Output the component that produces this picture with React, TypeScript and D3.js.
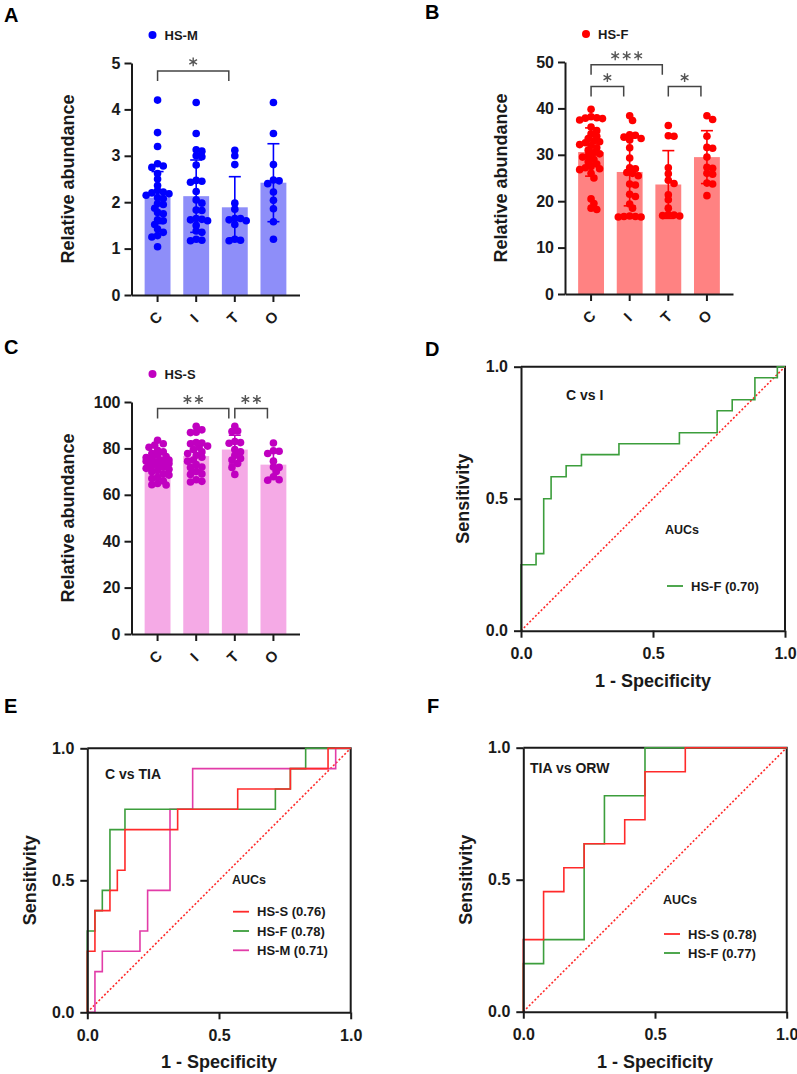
import React, { useEffect, useRef } from 'react';
import * as d3 from 'd3';

const FONT = "'Liberation Sans', Arial, Helvetica, sans-serif";
const groups = ['C', 'I', 'T', 'O'];

// HS-M relative abundance per group
const hsmC = [4.2, 3.5, 3.2, 2.83, 2.78, 2.75, 2.62, 2.5, 2.36, 2.25, 2.22, 2.2, 2.18, 2.15, 2.1, 2.08, 1.97, 1.95, 1.87, 1.78, 1.75, 1.62, 1.6, 1.52, 1.42, 1.35, 1.28, 1.25, 1.04];
const hsmI = [4.15, 3.48, 3.13, 3.1, 3.0, 2.98, 2.8, 2.47, 2.45, 2.43, 2.23, 2.05, 1.98, 1.83, 1.82, 1.65, 1.63, 1.62, 1.6, 1.5, 1.38, 1.35, 1.2, 1.18, 1.17];
const hsmT = [3.12, 3.0, 2.81, 1.98, 1.85, 1.65, 1.65, 1.62, 1.6, 1.52, 1.2, 1.18, 1.17];
const hsmO = [4.15, 3.48, 2.81, 2.48, 2.46, 2.4, 2.22, 2.04, 1.86, 1.58, 1.2];
const hsmMean = [2.1, 2.13, 1.89, 2.42];
const hsmSd = [0.56, 0.78, 0.66, 0.84];

// HS-F
const hsfC = [39.8, 38.2, 38.0, 37.9, 37.8, 37.5, 36.0, 35.2, 34.5, 34.0, 33.5, 33.0, 32.8, 32.6, 32.2, 32.0, 31.5, 31.0, 30.5, 30.2, 29.8, 29.5, 29.0, 28.5, 28.0, 27.5, 27.2, 27.0, 26.8, 26.0, 25.0, 20.5, 19.5, 18.5, 18.2];
const hsfI = [38.4, 37.4, 34.3, 34.2, 33.8, 33.5, 33.2, 31.5, 29.3, 27.2, 27.0, 26.2, 26.0, 25.5, 23.7, 23.5, 21.5, 21.0, 19.4, 18.5, 16.8, 16.7, 16.7, 16.6, 16.6];
const hsfT = [36.3, 34.1, 34.0, 27.2, 25.9, 24.5, 23.8, 21.4, 20.3, 18.5, 17.1, 17.0, 16.9, 16.8];
const hsfO = [38.4, 37.6, 34.0, 31.6, 31.4, 29.5, 27.3, 27.1, 26.0, 25.8, 23.9, 23.7, 21.2];
const hsfMean = [30.6, 26.3, 23.6, 29.5];
const hsfSd = [5.2, 7.3, 7.3, 5.7];

// HS-S
const hssC = [83.5, 82, 81.4, 80.5, 79.2, 78.5, 77.8, 77, 76.5, 76.1, 75.5, 75, 75, 74.5, 74.2, 74, 73.5, 73.5, 73, 72.4, 72, 71.4, 71, 70.5, 69.9, 69, 68.5, 67.5, 67, 66, 64.9, 64.3, 64.2];
const hssI = [89.5, 88, 87, 86.8, 82.5, 82.3, 82, 81, 80.5, 79.5, 78.5, 77.8, 77, 76.2, 75, 74.5, 73, 72, 71.8, 70, 69, 68.8, 66.5, 65.8, 65.5];
const hssT = [89.5, 87.5, 87.3, 83, 82.5, 82.2, 79.5, 78.5, 77, 75.7, 75, 73.5, 71.8, 68.8];
const hssO = [82.3, 79, 78.8, 77.8, 74.5, 72, 71.8, 70, 67.8, 66.5, 66.3];
const hssMean = [74.2, 76.7, 79.5, 73.0];
const hssSd = [4.5, 6.4, 6.2, 5.5];

// ROC step vertices (1 - specificity, sensitivity)
const dHsfFpr = [0, 0.057, 0.086, 0.114, 0.171, 0.229, 0.371, 0.6, 0.743, 0.8, 0.886, 0.971, 1];
const dHsfTpr = [0, 0.25, 0.292, 0.5, 0.583, 0.625, 0.667, 0.708, 0.75, 0.833, 0.875, 0.958, 1];

const eHssFpr = [0, 0.029, 0.086, 0.114, 0.143, 0.343, 0.571, 0.771, 0.914, 1];
const eHssTpr = [0, 0.231, 0.385, 0.462, 0.538, 0.692, 0.769, 0.846, 0.923, 1];
const eHsfFpr = [0, 0.029, 0.057, 0.086, 0.143, 0.714, 0.771, 0.829, 1];
const eHsfTpr = [0, 0.308, 0.385, 0.462, 0.692, 0.769, 0.846, 0.923, 1];
const eHsmFpr = [0, 0.029, 0.057, 0.2, 0.229, 0.314, 0.4, 0.943, 1];
const eHsmTpr = [0, 0, 0.154, 0.231, 0.308, 0.462, 0.769, 0.923, 1];

const fHssFpr = [0, 0.077, 0.154, 0.231, 0.385, 0.462, 0.615, 1];
const fHssTpr = [0, 0.273, 0.455, 0.545, 0.636, 0.727, 0.909, 1];
const fHsfFpr = [0, 0.077, 0.231, 0.308, 0.462, 1];
const fHsfTpr = [0, 0.182, 0.273, 0.636, 0.818, 1];

const GREEN = '#3c9e3c';
const RED = '#ff2a2a';
const MAGENTA = '#e23ca8';

// spread points sideways so dots don't pile up on one spot,
// but keep them within maxOff of the bar centre (dense groups just overlap)
function swarm(ys: number[], r: number, maxOff = 14) {
  const placed: { x: number; y: number }[] = [];
  const sorted = [...ys].sort((a, b) => a - b);
  const step = r * 0.75;
  for (const py of sorted) {
    let best = 0;
    let bestGap = -1;
    for (let k = 0; ; k++) {
      const off = k === 0 ? 0 : (k % 2 ? 1 : -1) * Math.ceil(k / 2) * step;
      if (Math.abs(off) > maxOff) break;
      const gap = placed.length
        ? d3.min(placed, (p) => Math.hypot(p.x - off, p.y - py))!
        : Infinity;
      if (gap >= r * 1.3) {
        best = off;
        bestGap = Infinity;
        break;
      }
      if (gap > bestGap) {
        bestGap = gap;
        best = off;
      }
    }
    placed.push({ x: best, y: py });
  }
  return placed;
}

function drawBarPanel(svg: any, p: any) {
  const g = svg.append('g');
  const y = d3.scaleLinear().domain([0, p.max]).range([p.bottom, p.top]);
  const x = d3
    .scaleBand()
    .domain(groups)
    .range([p.left, p.left + 168])
    .paddingInner(0.33)
    .paddingOuter(0.34);
  const bw = x.bandwidth();

  g.selectAll('.bar')
    .data(p.means)
    .join('rect')
    .attr('x', (d: number, i: number) => x(groups[i]))
    .attr('y', (d: number) => y(d))
    .attr('width', bw)
    .attr('height', (d: number) => p.bottom - y(d))
    .attr('fill', p.barColor);

  // error bars (mean ± SD)
  p.means.forEach((m: number, i: number) => {
    const cx = x(groups[i])! + bw / 2;
    const sd = p.sds[i];
    const eg = g.append('g').attr('stroke', p.dotColor).attr('stroke-width', 1.6);
    eg.append('line').attr('x1', cx).attr('x2', cx).attr('y1', y(m - sd)).attr('y2', y(m + sd));
    [m - sd, m + sd].forEach((v) =>
      eg.append('line').attr('x1', cx - 6).attr('x2', cx + 6).attr('y1', y(v)).attr('y2', y(v))
    );
  });

  const r = 3.8;
  p.points.forEach((vals: number[], i: number) => {
    const cx = x(groups[i])! + bw / 2;
    const pts = swarm(vals.map((v) => y(v)), r);
    g.selectAll(null)
      .data(pts)
      .join('circle')
      .attr('cx', (d: any) => cx + d.x)
      .attr('cy', (d: any) => d.y)
      .attr('r', r)
      .attr('fill', p.dotColor);
  });

  const yAxis = g
    .append('g')
    .attr('transform', `translate(${p.left},0)`)
    .call(
      d3
        .axisLeft(y)
        .tickValues(d3.range(0, p.max + 0.001, p.step))
        .tickFormat(d3.format('d'))
        .tickSize(7)
        .tickSizeOuter(0)
        .tickPadding(4)
    );
  const xAxis = g
    .append('g')
    .attr('transform', `translate(0,${p.bottom})`)
    .call(d3.axisBottom(x).tickSize(7).tickSizeOuter(0).tickFormat(() => ''));
  [yAxis, xAxis].forEach((a) => {
    a.select('.domain').attr('stroke', '#1a1a1a').attr('stroke-width', 2);
    a.selectAll('.tick line').attr('stroke', '#1a1a1a').attr('stroke-width', 2);
  });
  yAxis
    .selectAll('.tick text')
    .attr('font-family', FONT)
    .attr('font-size', 16)
    .attr('font-weight', 'bold')
    .attr('fill', '#1a1a1a');

  groups.forEach((c) => {
    const cx = x(c)! + bw / 2 - 2;
    g.append('text')
      .attr('transform', `translate(${cx},${p.bottom + 23}) rotate(-45)`)
      .attr('text-anchor', 'middle')
      .attr('dy', '0.35em')
      .attr('font-family', FONT)
      .attr('font-size', 15)
      .attr('font-weight', 'bold')
      .attr('fill', '#1a1a1a')
      .text(c);
  });

  g.append('text')
    .attr('transform', `translate(${p.left - 64},${(p.top + p.bottom) / 2}) rotate(-90)`)
    .attr('text-anchor', 'middle')
    .attr('dy', '0.35em')
    .attr('font-family', FONT)
    .attr('font-size', 18)
    .attr('font-weight', 'bold')
    .attr('fill', '#1a1a1a')
    .text('Relative abundance');

  // legend
  g.append('circle').attr('cx', p.left + 21).attr('cy', p.top - 28).attr('r', 4).attr('fill', p.dotColor);
  g.append('text')
    .attr('x', p.left + 33)
    .attr('y', p.top - 23.5)
    .attr('font-family', FONT)
    .attr('font-size', 13)
    .attr('font-weight', 'bold')
    .attr('fill', '#1a1a1a')
    .text(p.legend);

  // significance brackets
  const star = d3.symbol(d3.symbolAsterisk, 55);
  p.brackets.forEach((b: any) => {
    const x1 = x(groups[b.from])! + bw / 2;
    const x2 = x(groups[b.to])! + bw / 2 - 6;
    const yl = y(b.level);
    g.append('path')
      .attr('d', `M${x1},${yl + 10}V${yl}H${x2}V${yl + 10}`)
      .attr('fill', 'none')
      .attr('stroke', '#444')
      .attr('stroke-width', 1.5);
    const mid = (x1 + x2) / 2;
    for (let k = 0; k < b.stars; k++) {
      const sx = mid + (k - (b.stars - 1) / 2) * 11.5;
      g.append('path')
        .attr('d', star)
        .attr('transform', `translate(${sx},${yl - 9})`)
        .attr('fill', 'none')
        .attr('stroke', '#555')
        .attr('stroke-width', 1.4);
    }
  });
}

function drawRocPanel(svg: any, p: any) {
  const g = svg.append('g');
  const x = d3.scaleLinear().domain([0, 1]).range([p.x0, p.x1]);
  const y = d3.scaleLinear().domain([0, 1]).range([p.yBot, p.yTop]);

  // box
  g.append('path')
    .attr('d', `M${p.x0},${p.yTop}H${p.x1}V${p.yBot}`)
    .attr('fill', 'none')
    .attr('stroke', '#1a1a1a')
    .attr('stroke-width', 2);

  g.append('line')
    .attr('x1', x(0))
    .attr('y1', y(0))
    .attr('x2', x(1))
    .attr('y2', y(1))
    .attr('stroke', RED)
    .attr('stroke-width', 1.6)
    .attr('stroke-dasharray', '2,2');

  // last series in the list goes underneath
  [...p.series].reverse().forEach((s: any) => {
    const pts = s.fpr.map((f: number, i: number) => [x(f), y(s.tpr[i])]);
    g.append('path')
      .attr('d', d3.line().curve(d3.curveStepBefore)(pts))
      .attr('fill', 'none')
      .attr('stroke', s.color)
      .attr('stroke-width', 1.6);
  });

  const ticks = [0, 0.5, 1];
  const yAxis = g
    .append('g')
    .attr('transform', `translate(${p.x0},0)`)
    .call(d3.axisLeft(y).tickValues(ticks).tickFormat(d3.format('.1f')).tickSize(7).tickSizeOuter(0).tickPadding(6));
  const xAxis = g
    .append('g')
    .attr('transform', `translate(0,${p.yBot})`)
    .call(d3.axisBottom(x).tickValues(ticks).tickFormat(d3.format('.1f')).tickSize(7).tickSizeOuter(0).tickPadding(10));
  [yAxis, xAxis].forEach((a) => {
    a.select('.domain').attr('stroke', '#1a1a1a').attr('stroke-width', 2);
    a.selectAll('.tick line').attr('stroke', '#1a1a1a').attr('stroke-width', 2);
    a.selectAll('.tick text')
      .attr('font-family', FONT)
      .attr('font-size', 16)
      .attr('font-weight', 'bold')
      .attr('fill', '#1a1a1a');
  });

  const txt = (sel: any, size: number) =>
    sel.attr('font-family', FONT).attr('font-size', size).attr('font-weight', 'bold').attr('fill', '#1a1a1a');

  txt(
    g
      .append('text')
      .attr('transform', `translate(${p.x0 - 58},${(p.yTop + p.yBot) / 2}) rotate(-90)`)
      .attr('text-anchor', 'middle')
      .attr('dy', '0.35em')
      .text('Sensitivity'),
    18
  );
  txt(
    g
      .append('text')
      .attr('x', (p.x0 + p.x1) / 2)
      .attr('y', p.yBot + 56)
      .attr('text-anchor', 'middle')
      .text('1 - Specificity'),
    18
  );
  txt(g.append('text').attr('x', p.titleX).attr('y', p.titleY).text(p.title), 14);
  txt(g.append('text').attr('x', p.aucX).attr('y', p.aucY).text('AUCs'), 12.5);

  p.series.forEach((s: any, i: number) => {
    const ly = p.legY + i * p.legDy;
    g.append('line')
      .attr('x1', p.legX)
      .attr('x2', p.legX + 16)
      .attr('y1', ly)
      .attr('y2', ly)
      .attr('stroke', s.color)
      .attr('stroke-width', 1.8);
    txt(g.append('text').attr('x', p.legX + 24).attr('y', ly).attr('dy', '0.35em').text(s.label), 13);
  });
}

const App = () => {
  const svgRef = useRef<SVGSVGElement>(null);

  useEffect(() => {
    const svg = d3.select(svgRef.current);
    svg.selectAll('*').remove();

    drawBarPanel(svg, {
      left: 131.5, top: 63, bottom: 295, max: 5, step: 1,
      means: hsmMean, sds: hsmSd, points: [hsmC, hsmI, hsmT, hsmO],
      barColor: '#8e8ef9', dotColor: '#0000ff', legend: 'HS-M',
      brackets: [{ from: 0, to: 2, stars: 1, level: 4.83 }],
    });
    drawBarPanel(svg, {
      left: 565, top: 62, bottom: 294, max: 50, step: 10,
      means: hsfMean, sds: hsfSd, points: [hsfC, hsfI, hsfT, hsfO],
      barColor: '#ff8282', dotColor: '#ff0000', legend: 'HS-F',
      brackets: [
        { from: 0, to: 2, stars: 3, level: 49.4 },
        { from: 0, to: 1, stars: 1, level: 44.7 },
        { from: 2, to: 3, stars: 1, level: 44.7 },
      ],
    });
    drawBarPanel(svg, {
      left: 131.5, top: 402, bottom: 634, max: 100, step: 20,
      means: hssMean, sds: hssSd, points: [hssC, hssI, hssT, hssO],
      barColor: '#f5aae6', dotColor: '#c000c0', legend: 'HS-S',
      brackets: [
        { from: 0, to: 2, stars: 2, level: 97.2 },
        { from: 2, to: 3, stars: 2, level: 97.2 },
      ],
    });

    drawRocPanel(svg, {
      x0: 521, x1: 785, yTop: 366.7, yBot: 630.7,
      title: 'C vs I', titleX: 566, titleY: 400, aucX: 665, aucY: 534,
      legX: 667, legY: 586, legDy: 19,
      series: [{ label: 'HS-F (0.70)', color: GREEN, fpr: dHsfFpr, tpr: dHsfTpr }],
    });
    drawRocPanel(svg, {
      x0: 87.3, x1: 350.7, yTop: 748.3, yBot: 1012.3,
      title: 'C vs TIA', titleX: 105, titleY: 779, aucX: 232, aucY: 884,
      legX: 233, legY: 911.7, legDy: 19.3,
      series: [
        { label: 'HS-S (0.76)', color: RED, fpr: eHssFpr, tpr: eHssTpr },
        { label: 'HS-F (0.78)', color: GREEN, fpr: eHsfFpr, tpr: eHsfTpr },
        { label: 'HS-M (0.71)', color: MAGENTA, fpr: eHsmFpr, tpr: eHsmTpr },
      ],
    });
    drawRocPanel(svg, {
      x0: 523.3, x1: 786.7, yTop: 747.7, yBot: 1011.7,
      title: 'TIA vs ORW', titleX: 530, titleY: 773, aucX: 663, aucY: 904,
      legX: 664, legY: 934, legDy: 19,
      series: [
        { label: 'HS-S (0.78)', color: RED, fpr: fHssFpr, tpr: fHssTpr },
        { label: 'HS-F (0.77)', color: GREEN, fpr: fHsfFpr, tpr: fHsfTpr },
      ],
    });

    const letters = [
      ['A', 4, 22], ['B', 425, 19], ['C', 4, 354], ['D', 425, 356], ['E', 4, 713], ['F', 427, 713],
    ];
    svg
      .selectAll('.letter')
      .data(letters)
      .join('text')
      .attr('x', (d: any) => d[1])
      .attr('y', (d: any) => d[2])
      .attr('font-family', FONT)
      .attr('font-size', 20)
      .attr('font-weight', 'bold')
      .attr('fill', '#000')
      .text((d: any) => d[0]);
  }, []);

  return (
    <svg
      ref={svgRef}
      width={797}
      height={1074}
      style={{ position: 'absolute', left: 0, top: 0, background: '#fff' }}
    />
  );
};

export default App;
